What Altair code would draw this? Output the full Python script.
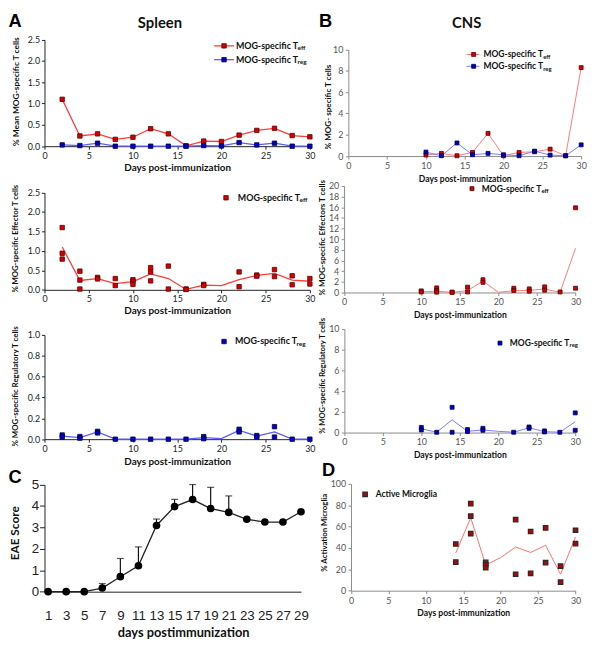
import altair as alt
import pandas as pd

W, H = 592, 640
F = "Lato"
FA = "Liberation Sans"

# ---------------- data ----------------
spleen_days = [2, 4, 6, 8, 10, 12, 14, 16, 18, 20, 22, 24, 26, 28, 30]
spleen_teff_mean = [1.10, 0.24, 0.29, 0.16, 0.21, 0.41, 0.29, 0.01, 0.12, 0.11, 0.26, 0.37, 0.42, 0.25, 0.22]
spleen_treg_mean = [0.03, 0.015, 0.07, 0.0, 0.0, 0.0, 0.0, 0.0, 0.015, 0.005, 0.085, 0.03, 0.07, 0.0, 0.0]

spleen_teff_pts_day = [2, 2, 2, 4, 4, 4, 6, 6, 8, 8, 10, 10, 10, 12, 12, 12, 14, 14, 16, 16,
                       18, 18, 22, 22, 24, 24, 26, 26, 28, 28, 30, 30]
spleen_teff_pts_val = [1.60, 0.94, 0.79, 0.48, 0.25, 0.02, 0.32, 0.28, 0.29, 0.11, 0.26, 0.22, 0.14,
                       0.57, 0.46, 0.23, 0.61, 0.02, 0.02, 0.01, 0.14, 0.11, 0.46, 0.08, 0.38, 0.35,
                       0.52, 0.34, 0.36, 0.13, 0.29, 0.15]

spleen_treg_pts_day = [2, 2, 4, 4, 6, 6, 8, 10, 12, 14, 16, 18, 18, 22, 22, 24, 24, 26, 26, 28, 30]
spleen_treg_pts_val = [0.04, 0.02, 0.025, 0.01, 0.075, 0.06, 0.0, 0.0, 0.0, 0.0, 0.0, 0.025, 0.005,
                       0.095, 0.07, 0.035, 0.02, 0.12, 0.02, 0.0, 0.0]

cns_days = [10, 12, 14, 16, 18, 20, 22, 24, 26, 28, 30]
cns_teff_mean = [0.1, 0.25, 0.03, 0.34, 2.13, 0.03, 0.34, 0.4, 0.65, 0.03, 8.3]
cns_treg_mean = [0.37, 0.03, 1.23, 0.12, 0.25, 0.12, 0.03, 0.46, 0.09, 0.03, 1.05]

cns_teff_pts_day = [10, 10, 12, 12, 12, 14, 14, 16, 16, 18, 18, 22, 22, 24, 24, 26, 26, 28, 30, 30]
cns_teff_pts_val = [0.3, 0.1, 0.86, 0.37, 0.06, 0.06, 0.03, 1.0, 0.1, 2.4, 1.9, 0.8, 0.37, 0.68, 0.25,
                    1.05, 0.43, 0.1, 15.9, 0.8]

cns_treg_pts_day = [10, 10, 12, 14, 14, 16, 16, 18, 18, 22, 24, 24, 26, 26, 28, 30, 30]
cns_treg_pts_val = [0.5, 0.25, 0.03, 2.44, 0.03, 0.29, 0.1, 0.41, 0.22, 0.03, 0.54, 0.41, 0.16, 0.06,
                    0.03, 1.9, 0.22]

eae_days = [1, 3, 5, 7, 9, 11, 13, 15, 17, 19, 21, 23, 25, 27, 29]
eae_score = [0, 0, 0, 0.17, 0.7, 1.21, 3.09, 3.97, 4.3, 3.88, 3.7, 3.38, 3.25, 3.25, 3.73]
eae_err_days = [7, 9, 11, 13, 15, 17, 19, 21]
eae_err_upper = [0.38, 1.55, 2.09, 3.39, 4.31, 5.0, 4.87, 4.47]

mg_pts_day = [14, 14, 16, 16, 16, 18, 18, 18, 22, 22, 24, 24, 26, 26, 28, 28, 30, 30]
mg_pts_val = [43.7, 26.8, 81.5, 69.8, 53.5, 26.5, 24.3, 21.5, 66.5, 15.4, 55.4, 16.3, 58.8, 26.2,
              23, 8, 56.6, 44]
mg_mean_day = [14, 16, 18, 20, 22, 24, 26, 28, 30]
mg_mean_val = [35.3, 68.3, 24.1, 31, 40.9, 35.8, 42.5, 15.5, 50.3]

# ---------------- styles ----------------
STYLE_A = dict(domainColor="#222", tickColor="#222", labelColor="#222", labelFont=F,
               labelFontSize=9, tickSize=3, labelPadding=2)
STYLE_B = dict(domainColor="#8a8a8a", tickColor="#8a8a8a", labelColor="#555", labelFont=F,
               labelFontSize=9, tickSize=3, labelPadding=2.5)
STYLE_C = dict(domainColor="#222", tickColor="#222", labelColor="#222", labelFont=FA,
               labelFontSize=13.5)


def make_x(dom, rng, axis_y, values, title, tsize, title_y, style, title_x=None):
    ax = dict(orient="bottom", offset=axis_y - H, values=values, title=title, grid=False,
              titleFont=F, titleFontSize=tsize, titleFontWeight="bold", titleColor="#111",
              titleY=title_y, titleBaseline="middle", labelFlush=False, labelOverlap=False,
              format="d")
    ax.update(style)
    if title_x is not None:
        ax["titleX"] = title_x
    return alt.X("day:Q", scale=alt.Scale(domain=dom, range=rng, nice=False, zero=False),
                 axis=alt.Axis(**ax))


def make_y(dom, rng, axis_x, values, fmt, title, tsize, title_x, title_y, style):
    ax = dict(orient="left", offset=-axis_x, values=values, format=fmt, title=title, grid=False,
              titleFont=F, titleFontSize=tsize, titleFontWeight="bold", titleColor="#111",
              titleX=title_x, titleY=title_y, titleBaseline="middle", titleAlign="center",
              labelOverlap=False)
    ax.update(style)
    return alt.Y("val:Q", scale=alt.Scale(domain=dom, range=rng, nice=False, zero=False),
                 axis=alt.Axis(**ax))


def line(days, vals, x, y, color, w=1.3):
    d = pd.DataFrame({"day": days, "val": vals})
    return alt.Chart(d).mark_line(color=color, strokeWidth=w).encode(x=x, y=y)


def squares(days, vals, x, y, fill, stroke, size=20, sw=0.8):
    d = pd.DataFrame({"day": days, "val": vals})
    return alt.Chart(d).mark_square(fill=fill, stroke=stroke, strokeWidth=sw, size=size,
                                    opacity=1).encode(x=x, y=y)


one = pd.DataFrame({"k": [0]})


def txt(s, x, y, size, weight="bold", color="#111", align="left", font=F, baseline="middle"):
    return alt.Chart(one).mark_text(text=s, align=align, baseline=baseline, font=font,
                                    fontSize=size, fontWeight=weight, color=color).encode(
        x=alt.value(x), y=alt.value(y))


def sq(x, y, fill, stroke, size=20, sw=0.8):
    return alt.Chart(one).mark_square(fill=fill, stroke=stroke, strokeWidth=sw, size=size,
                                      opacity=1).encode(x=alt.value(x), y=alt.value(y))


def seg(x1, x2, y, color, w=1.3):
    return alt.Chart(one).mark_rule(color=color, strokeWidth=w).encode(
        x=alt.value(x1), x2=alt.value(x2), y=alt.value(y))


RED_F, RED_S, RED_L = "#d40000", "#5a0000", "#ff3b3b"
BLU_F, BLU_S, BLU_L = "#0000c8", "#000050", "#5a5aff"
RED_L2, BLU_L2 = "#ff7a7a", "#7a7aff"

x30 = [0, 5, 10, 15, 20, 25, 30]
DAYS = "Days post-immunization"

# ---------------- Panel A top ----------------
xa1 = make_x([0, 30], [37, 306], 135.7, x30, DAYS, 10, 21.3, STYLE_A)
ya1 = make_y([0, 2.5], [135.7, 27.7], 37, [0, 0.5, 1, 1.5, 2, 2.5], ".1f",
             "% Mean MOG-specific T cells", 8.5, -29.5, 80, STYLE_A)
pa1 = alt.layer(
    line(spleen_days, spleen_teff_mean, xa1, ya1, RED_L),
    line(spleen_days, spleen_treg_mean, xa1, ya1, BLU_L),
    squares(spleen_days, spleen_teff_mean, xa1, ya1, RED_F, RED_S),
    squares(spleen_days, spleen_treg_mean, xa1, ya1, BLU_F, BLU_S),
)

# ---------------- Panel A middle ----------------
xa2 = make_x([0, 30], [37, 306], 281.3, x30, DAYS, 10, 20.7, STYLE_A)
ya2 = make_y([0, 2.5], [281.3, 182.7], 37, [0, 0.5, 1, 1.5, 2, 2.5], ".1f",
             "% MOG-specific Effector T cells", 7.8, -29.5, 229, STYLE_A)
pa2 = alt.layer(
    line(spleen_days, spleen_teff_mean, xa2, ya2, RED_L),
    squares(spleen_teff_pts_day, spleen_teff_pts_val, xa2, ya2, RED_F, RED_S),
)

# ---------------- Panel A bottom ----------------
xa3 = make_x([0, 30], [37, 306], 432.7, x30, DAYS, 10, 22.3, STYLE_A)
ya3 = make_y([0, 1], [432.7, 327], 37, [0, 0.2, 0.4, 0.6, 0.8, 1.0], ".1f",
             "% MOG-specific Regulatory T cells", 8, -29.5, 378.7, STYLE_A)
pa3 = alt.layer(
    line(spleen_days, spleen_treg_mean, xa3, ya3, BLU_L),
    squares(spleen_treg_pts_day, spleen_treg_pts_val, xa3, ya3, BLU_F, BLU_S),
)

# ---------------- Panel B top ----------------
xb1 = make_x([0, 30], [345, 581], 145.7, x30, DAYS, 8.7, 22.3, STYLE_B)
yb1 = make_y([0, 10], [145.7, 37.7], 345, [0, 2, 4, 6, 8, 10], "d",
             "% MOG- specific T cells", 8.2, -20, 95.5, STYLE_B)
pb1 = alt.layer(
    line(cns_days, cns_teff_mean, xb1, yb1, RED_L2, 1),
    line(cns_days, cns_treg_mean, xb1, yb1, BLU_L2, 1),
    squares(cns_days, cns_teff_mean, xb1, yb1, RED_F, RED_S, 16),
    squares(cns_days, cns_treg_mean, xb1, yb1, BLU_F, BLU_S, 16),
)

# ---------------- Panel B middle ----------------
xb2 = make_x([0, 30], [340.7, 575.3], 284, x30, DAYS, 8.7, 22, STYLE_B)
yb2 = make_y([0, 20], [284, 176], 340.7, list(range(0, 21, 2)), "d",
             "% MOG-specific Effectors T cells", 8.1, -22, 228, STYLE_B)
pb2 = alt.layer(
    line(cns_days, cns_teff_mean, xb2, yb2, RED_L2, 1),
    squares(cns_teff_pts_day, cns_teff_pts_val, xb2, yb2, RED_F, RED_S, 16),
)

# ---------------- Panel B bottom ----------------
xb3 = make_x([0, 30], [341, 575], 426, x30, DAYS, 8.7, 22, STYLE_B)
yb3 = make_y([0, 10], [426, 321], 341, [0, 2, 4, 6, 8, 10], "d",
             "% MOG-specific Regulatory T cells", 7.7, -22.3, 368, STYLE_B)
pb3 = alt.layer(
    line(cns_days, cns_treg_mean, xb3, yb3, BLU_L2, 1),
    squares(cns_treg_pts_day, cns_treg_pts_val, xb3, yb3, BLU_F, BLU_S, 16),
)

# ---------------- Panel C ----------------
sc = dict(STYLE_C)
xc = make_x([0.6, 29], [37, 297], 587.3, eae_days, "days postimmunization", 13, 41.7,
            dict(sc, tickSize=0, labelPadding=17), title_x=177.5)
yc = make_y([0, 5], [587.3, 478.7], 37, [0, 1, 2, 3, 4, 5], "d", "EAE Score", 12, -30.3, 527.6,
            dict(sc, tickSize=5, labelPadding=1))
eae_df = pd.DataFrame({"day": eae_days, "val": eae_score})
err_df = pd.DataFrame({"day": eae_err_days,
                       "val": [eae_score[eae_days.index(d)] for d in eae_err_days],
                       "up": eae_err_upper})
cap_df = pd.DataFrame({"day": eae_err_days, "val": eae_err_upper})
pc = alt.layer(
    alt.Chart(err_df).mark_rule(color="#111", strokeWidth=1.2).encode(
        x=xc, y=yc, y2=alt.Y2("up:Q")),
    alt.Chart(cap_df).mark_tick(orient="horizontal", color="#111", size=7, thickness=1.2).encode(
        x=xc, y=yc),
    alt.Chart(eae_df).mark_line(color="#222", strokeWidth=1.3).encode(x=xc, y=yc),
    alt.Chart(eae_df).mark_circle(color="#000", size=60, opacity=1).encode(x=xc, y=yc),
)

# ---------------- Panel D ----------------
xd = make_x([0, 30], [347.7, 575.3], 586.3, x30, DAYS, 8.7, 22.4, STYLE_B)
yd = make_y([0, 100], [586.3, 478], 347.7, [0, 20, 40, 60, 80, 100], "d",
            "% Activation Microglia", 7.9, -26.4, 527, STYLE_B)
pd_ = alt.layer(
    line(mg_mean_day, mg_mean_val, xd, yd, "#ff7070", 1),
    squares(mg_pts_day, mg_pts_val, xd, yd, "#c00000", "#2a2a2a", 20, 1.3),
)

# ---------------- annotations ----------------
annots = [
    txt("A", 0.5, 15, 18.5, font=FA, align="left", color="#000", baseline="alphabetic"),
    txt("B", 322, 15, 18.5, font=FA, align="center", color="#000", baseline="alphabetic"),
    txt("C", 0.5, 477, 18.5, font=FA, align="left", color="#000", baseline="alphabetic"),
    txt("D", 325, 469.7, 18.5, font=FA, align="center", color="#000", baseline="alphabetic"),
    txt("Spleen", 154, 11, 15, align="center"),
    txt("CNS", 465, 11, 15, align="center"),
    # A top legend
    seg(209, 229, 34, RED_L), sq(219, 34, RED_F, RED_S),
    txt("MOG-specific T", 231, 34, 9), txt("eff", 293.5, 36.5, 6.5),
    seg(209, 229, 48, BLU_L), sq(219, 48, BLU_F, BLU_S),
    txt("MOG-specific T", 231, 48, 9), txt("reg", 293.5, 50.5, 6.5),
    # A mid legend
    sq(221, 188, RED_F, RED_S), txt("MOG-specific T", 233, 188, 9), txt("eff", 295.5, 190.5, 6.5),
    # A bottom legend
    sq(219, 333.7, BLU_F, BLU_S), txt("MOG-specific T", 230, 333.7, 9),
    txt("reg", 292.5, 336.2, 6.5),
    # B top legend
    seg(464.7, 478, 42.7, RED_L2, 1), sq(472, 42.7, RED_F, RED_S, 16),
    txt("MOG-specific T", 482, 42.7, 8.6), txt("eff", 542.5, 45, 6),
    seg(464.7, 478, 54.7, BLU_L2, 1), sq(472, 54.7, BLU_F, BLU_S, 16),
    txt("MOG-specific T", 482, 54.7, 8.6), txt("reg", 542.5, 57, 6),
    # B mid legend
    sq(470.3, 178.7, RED_F, RED_S, 16), txt("MOG-specific T", 480.3, 178.7, 8.6),
    txt("eff", 540.8, 181, 6),
    # B bottom legend
    sq(498.7, 335.3, BLU_F, BLU_S, 16), txt("MOG-specific T", 508.7, 335.3, 8.6),
    txt("reg", 569.2, 337.6, 6),
    # D legend
    sq(362, 488.7, "#c00000", "#2a2a2a", 20, 1.3), txt("Active Microglia", 372.7, 488.7, 8.6),
]

chart = alt.layer(pa1, pa2, pa3, pb1, pb2, pb3, pc, pd_, *annots).resolve_scale(
    x="independent", y="independent"
).properties(
    width=W, height=H, autosize=alt.AutoSizeParams(type="none"), padding=0
).configure_view(stroke=None)

chart.save("out.html", embed_options={"renderer": "svg", "actions": False})
